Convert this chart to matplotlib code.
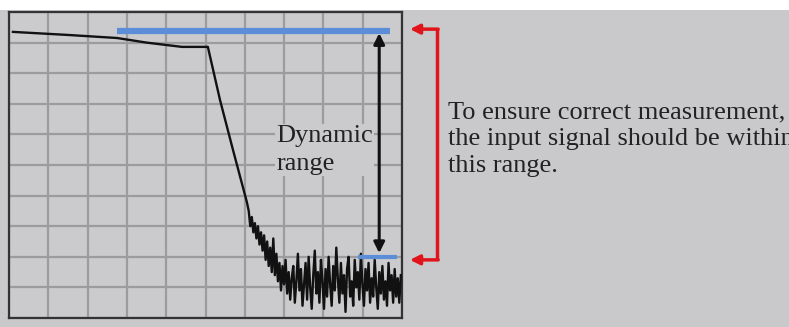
import numpy as np
import matplotlib.pyplot as plt
from matplotlib.patches import Rectangle

# spectrum trace (screen divisions, 10 x 10 grid)
trace_x = [0.1, 1.5, 2.75, 3.5, 4.4, 5.06, 5.37, 5.7, 6.05]
trace_y = [9.35, 9.25, 9.15, 9.0, 8.86, 8.86, 7.12, 5.49, 3.8]

noise_y = [3.5, 3.0, 3.3, 2.8, 3.1, 2.6, 3.0, 2.4, 2.8, 2.2, 2.7, 1.9, 2.5, 1.7,
           2.3, 1.5, 2.6, 1.4, 2.1, 1.2, 1.8, 0.9, 1.7,
           1.1, 1.9, 0.8, 1.5, 0.6, 1.3, 1.7, 0.5, 1.2, 2.1,
           0.9, 1.6, 0.4, 1.1, 1.8, 0.6, 2.0, 1.0, 0.3, 1.4,
           2.2, 0.8, 1.5, 0.5, 1.9, 1.2, 0.3, 1.6, 0.7, 2.0,
           1.1, 0.4, 1.7, 0.9, 2.3, 1.3, 0.5, 1.8, 0.8, 1.4,
           0.2, 1.6, 2.0, 0.7, 1.2, 0.4, 1.9, 1.0, 1.5, 0.6,
           2.1, 1.1, 0.4, 1.6, 0.9, 1.8, 0.5, 1.3, 0.7, 1.9,
           1.0, 0.3, 1.5, 0.8, 1.7, 0.6, 1.2, 0.4, 1.8, 0.9,
           1.4, 0.5, 1.6, 0.7, 1.3, 0.5, 1.4]
noise_x = np.linspace(6.1, 9.97, len(noise_y))

# level markers
top_level = 9.38
top_span = (2.75, 9.69)
floor_level = 1.99
floor_span = (8.88, 9.87)
arrow_x = 9.42

dyn_label = "Dynamic\nrange"
note = "To ensure correct measurement,\nthe input signal should be within\nthis range."

bg = '#c9c9cb'
blue = '#5b8ed6'
red = '#e0151b'
font = 'Liberation Serif'

fig = plt.figure(figsize=(7.89, 3.27), dpi=100, facecolor=bg)
fig.patches.append(Rectangle((0, 1 - 10 / 327), 1, 10 / 327, transform=fig.transFigure,
                             facecolor='white', edgecolor='none', zorder=0))

ax = fig.add_axes([9 / 789, 9 / 327, 393 / 789, 306 / 327])
ax.set_facecolor('#cbcbcd')
ax.set_xlim(0, 10)
ax.set_ylim(0, 10)
ax.set_xticks(range(11))
ax.set_yticks(range(11))
ax.tick_params(length=0, labelbottom=False, labelleft=False)
ax.grid(True, color='#9c9c9e', lw=1.6)
ax.set_axisbelow(True)
for sp in ax.spines.values():
    sp.set_color('#333333')
    sp.set_linewidth(1.6)

ax.plot(list(trace_x) + list(noise_x), list(trace_y) + list(noise_y),
        color='#111111', lw=1.7, zorder=3)

ax.plot(top_span, [top_level, top_level], color=blue, lw=4.5, solid_capstyle='butt', zorder=4)
ax.plot(floor_span, [floor_level, floor_level], color=blue, lw=3.0, solid_capstyle='butt', zorder=4)

ax.annotate('', xy=(arrow_x, floor_level + 0.13), xytext=(arrow_x, top_level - 0.07),
            arrowprops=dict(arrowstyle='<|-|>', color='#111111', lw=2.2,
                            mutation_scale=16, shrinkA=0, shrinkB=0), zorder=5)

ax.text(6.8, 6.3, dyn_label, family=font, fontsize=19, color='#222222',
        va='top', ha='left', linespacing=1.32,
        bbox=dict(facecolor='#cbcbcd', edgecolor='none', pad=1), zorder=4)

# red bracket outside the screen
bx = 10.89
ax.plot([bx, bx], [top_level + 0.06, floor_level - 0.09], color=red, lw=2.5,
        clip_on=False, solid_capstyle='butt')
for lvl in (top_level + 0.06, floor_level - 0.09):
    ax.annotate('', xy=(10.2, lvl), xytext=(bx + 0.03, lvl), annotation_clip=False,
                arrowprops=dict(arrowstyle='-|>', color=red, lw=2.5,
                                mutation_scale=14, shrinkA=0, shrinkB=0))

# the reference image crops this note at its right edge
ax.text(11.17, 7.08, note, family=font, fontsize=19, color='#222222',
        va='top', ha='left', linespacing=1.27, clip_on=False)

fig.savefig('out.png', dpi=100, facecolor=bg)
